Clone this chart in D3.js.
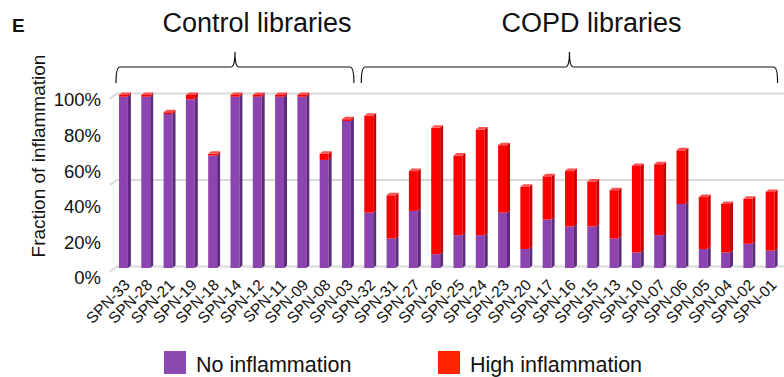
<!DOCTYPE html>
<html>
<head>
<meta charset="utf-8">
<script src="https://cdn.jsdelivr.net/npm/d3@7"></script>
<style>
  body { margin: 0; background: #fff; }
  svg { display: block; font-family: "Liberation Sans", Arial, sans-serif; }
</style>
</head>
<body>
<svg id="chart" width="784" height="377"></svg>
<script>
// libraries, left to right
const libraries = [
  'SPN-33', 'SPN-28', 'SPN-21', 'SPN-19', 'SPN-18', 'SPN-14', 'SPN-12', 'SPN-11', 'SPN-09', 'SPN-08', 'SPN-03',
  'SPN-32', 'SPN-31', 'SPN-27', 'SPN-26', 'SPN-25', 'SPN-24', 'SPN-23', 'SPN-20', 'SPN-17', 'SPN-16',
  'SPN-15', 'SPN-13', 'SPN-10', 'SPN-07', 'SPN-06', 'SPN-05', 'SPN-04', 'SPN-02', 'SPN-01',
];
const controlLibraries = libraries.slice(0, 11);
const copdLibraries = libraries.slice(11);

// fractions (0..1)
const noInflammation = [
  0.99, 0.99, 0.89, 0.975, 0.65, 0.99, 0.99, 0.99, 0.99, 0.625, 0.85,
  0.32, 0.17, 0.33, 0.08, 0.19, 0.19, 0.32, 0.11, 0.28, 0.24,
  0.24, 0.17, 0.09, 0.19, 0.37, 0.11, 0.09, 0.14, 0.10,
];
const highInflammation = [
  0.01, 0.01, 0.01, 0.025, 0.01, 0.01, 0.01, 0.01, 0.01, 0.035, 0.01,
  0.56, 0.25, 0.23, 0.73, 0.46, 0.61, 0.39, 0.36, 0.25, 0.32,
  0.26, 0.28, 0.50, 0.41, 0.31, 0.30, 0.28, 0.26, 0.34,
];

const yTicks = [0, 0.2, 0.4, 0.6, 0.8, 1];
const gridValues = [0, 0.5, 1];

const seriesNames = ['No inflammation', 'High inflammation'];

const colors = {
  purple: '#8c44b0',
  purpleSide: '#5c2b7a',
  purpleTop: '#a56cc4',
  red: '#ff0000',
  redSide: '#c80000',
  redTop: '#ff5050',
  legendPurple: '#8a4aae',
  legendRed: '#ff2400',
  grid: '#d9d9d9',
};

const depthX = 3; // fake 3d offset
const depthY = 2.5;

const svg = d3.select('#chart');

const x = d3
  .scaleBand()
  .domain(libraries)
  .range([112.3, 781.3])
  .paddingInner(0.6)
  .paddingOuter(0.3);

const y = d3.scaleLinear().domain([0, 1]).range([268, 95]);
// the tick labels sit a bit lower than the back wall in the original
const yLabel = d3.scaleLinear().domain([0, 1]).range([278, 100]);

// back wall gridlines
svg
  .append('g')
  .selectAll('path')
  .data(gridValues)
  .enter()
  .append('path')
  .attr('d', (v) => `M110,${y(v) + 3.5}L117,${y(v) - 1.5}L784,${y(v) - 1.5}`)
  .attr('fill', 'none')
  .attr('stroke', colors.grid)
  .attr('stroke-width', 2);

// y axis labels
const yAxis = svg
  .append('g')
  .attr('transform', 'translate(101,0)')
  .call(d3.axisLeft(yLabel).tickValues(yTicks).tickFormat(d3.format('.0%')).tickSize(0).tickPadding(0));
yAxis.select('.domain').remove();
yAxis
  .selectAll('text')
  .attr('font-family', '"Liberation Sans", Arial, sans-serif')
  .attr('font-size', '18.5px')
  .attr('fill', '#111');

svg
  .append('text')
  .attr('transform', 'translate(45,156) rotate(-90)')
  .attr('text-anchor', 'middle')
  .attr('font-size', '19px')
  .attr('fill', '#111')
  .text('Fraction of inflammation');

// stacked bars
const stackData = libraries.map((lib, i) => ({
  lib: lib,
  none: noInflammation[i],
  high: highInflammation[i],
}));
const stack = d3.stack().keys(['none', 'high'])(stackData);
const faceColors = [
  { front: colors.purple, side: colors.purpleSide, top: colors.purpleTop },
  { front: colors.red, side: colors.redSide, top: colors.redTop },
];

const bw = x.bandwidth();
const layers = svg
  .append('g')
  .selectAll('g')
  .data(stack)
  .enter()
  .append('g');

// front face
layers
  .selectAll('rect')
  .data((d) => d)
  .enter()
  .append('rect')
  .attr('x', (d) => x(d.data.lib))
  .attr('y', (d) => y(d[1]))
  .attr('width', bw)
  .attr('height', (d) => y(d[0]) - y(d[1]))
  .attr('fill', function () {
    return faceColors[d3.select(this.parentNode).datum().index].front;
  });

// side face
layers
  .selectAll('path.side')
  .data((d) => d)
  .enter()
  .append('path')
  .attr('class', 'side')
  .attr('d', (d) => {
    const x1 = x(d.data.lib) + bw;
    return `M${x1},${y(d[1])}L${x1 + depthX},${y(d[1]) - depthY}L${x1 + depthX},${y(d[0]) - depthY}L${x1},${y(d[0])}Z`;
  })
  .attr('fill', function () {
    return faceColors[d3.select(this.parentNode).datum().index].side;
  });

// top face only on the top segment
svg
  .append('g')
  .selectAll('path')
  .data(stack[1])
  .enter()
  .append('path')
  .attr('d', (d) => {
    const x0 = x(d.data.lib);
    const yt = y(d[1]);
    return `M${x0},${yt}L${x0 + bw},${yt}L${x0 + bw + depthX},${yt - depthY}L${x0 + depthX},${yt - depthY}Z`;
  })
  .attr('fill', colors.redTop);

// x labels
svg
  .append('g')
  .selectAll('text')
  .data(libraries)
  .enter()
  .append('text')
  .attr('transform', (d) => `translate(${x(d) + bw / 2 + 7.5},286) rotate(-45)`)
  .attr('text-anchor', 'end')
  .attr('font-size', '15.5px')
  .attr('fill', '#111')
  .text((d) => d);

// braces and group titles
function brace(x0, x1) {
  const mid = (x0 + x1) / 2;
  const top = 67;
  return (
    `M${x0},83 Q${x0},${top} ${x0 + 4},${top}` +
    ` L${mid - 4},${top} Q${mid},${top} ${mid},52` +
    ` Q${mid},${top} ${mid + 4},${top}` +
    ` L${x1 - 4},${top} Q${x1},${top} ${x1},83`
  );
}

const groups = [
  { name: 'Control libraries', libs: controlLibraries },
  { name: 'COPD libraries', libs: copdLibraries },
];

groups.forEach((g) => {
  const x0 = x(g.libs[0]) - 3;
  const x1 = x(g.libs[g.libs.length - 1]) + bw + 3;
  svg
    .append('path')
    .attr('d', brace(x0, x1))
    .attr('fill', 'none')
    .attr('stroke', '#111')
    .attr('stroke-width', 1.2);
  svg
    .append('text')
    .attr('x', (x0 + x1) / 2 + 22)
    .attr('y', 32)
    .attr('text-anchor', 'middle')
    .attr('font-size', '27px')
    .attr('fill', '#111')
    .text(g.name);
});

// panel letter
svg
  .append('text')
  .attr('x', 12)
  .attr('y', 32)
  .attr('font-size', '19px')
  .attr('font-weight', 'bold')
  .attr('fill', '#111')
  .text('E');

// legend
const legendItems = [
  { label: seriesNames[0], color: colors.legendPurple, x: 164 },
  { label: seriesNames[1], color: colors.legendRed, x: 438 },
];
const legend = svg
  .append('g')
  .selectAll('g')
  .data(legendItems)
  .enter()
  .append('g')
  .attr('transform', (d) => `translate(${d.x},351)`);
legend
  .append('rect')
  .attr('width', 22)
  .attr('height', 23)
  .attr('fill', (d) => d.color);
legend
  .append('text')
  .attr('x', 32)
  .attr('y', 21)
  .attr('font-size', '21.5px')
  .attr('fill', '#111')
  .text((d) => d.label);
</script>
</body>
</html>
